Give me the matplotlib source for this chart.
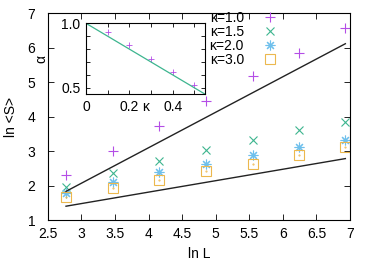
import matplotlib
matplotlib.use('Agg')
import matplotlib.pyplot as plt

plt.rcParams['font.family'] = ['Liberation Sans', 'DejaVu Sans']
plt.rcParams['font.size'] = 10

# ln L for L = 16 ... 1024
lnL = [2.77, 3.47, 4.16, 4.85, 5.55, 6.24, 6.93]

S_k10 = [2.30, 3.00, 3.73, 4.46, 5.17, 5.86, 6.59]
S_k15 = [1.97, 2.37, 2.73, 3.03, 3.32, 3.61, 3.86]
S_k20 = [1.79, 2.11, 2.39, 2.64, 2.88, 3.12, 3.34]
S_k30 = [1.67, 1.94, 2.18, 2.42, 2.64, 2.88, 3.12]

# guide lines
guide_x = [2.77, 6.93]
guide_hi = [1.84, 6.12]
guide_lo = [1.41, 2.79]

# inset: exponent alpha vs kappa
kappa = [0.1, 0.2, 0.3, 0.4, 0.5]
alpha = [0.93, 0.83, 0.72, 0.62, 0.52]
fit_k = [0.0, 0.55]
fit_a = [1.0, 0.45]

purple = '#b44de6'
green = '#3db58f'
blue = '#6fc0ec'
orange = '#ecb84e'

fig = plt.figure(figsize=(3.74, 2.62), dpi=100)
ax = fig.add_axes([0.128, 0.159, 0.808, 0.790])

ax.plot(lnL, S_k10, '+', color=purple, ms=7, mew=0.8, ls='none', label='κ=1.0')
ax.plot(lnL, S_k15, 'x', color=green, ms=6, mew=0.8, ls='none', label='κ=1.5')
ax.plot(lnL, S_k20, marker=(8, 2, 0), color=blue, ms=7, mew=0.8, ls='none', label='κ=2.0')
ax.plot(lnL, S_k30, 's', mfc='none', mec=orange, ms=7.5, mew=0.8, ls='none', label='κ=3.0')
ax.plot(lnL, S_k30, '.', color=orange, ms=1, ls='none')
ax.plot(guide_x, guide_hi, '-', color='#222222', lw=1.0)
ax.plot(guide_x, guide_lo, '-', color='#222222', lw=1.0)

ax.set_xlim(2.5, 7)
ax.set_ylim(1, 7)
ax.set_xticks([2.5, 3, 3.5, 4, 4.5, 5, 5.5, 6, 6.5, 7])
ax.set_xticklabels(['2.5', '3', '3.5', '4', '4.5', '5', '5.5', '6', '6.5', '7'])
ax.set_yticks([1, 2, 3, 4, 5, 6, 7])
ax.tick_params(direction='in', top=True, right=True, length=4, width=0.6)
ax.tick_params(axis='x', pad=5)
ax.tick_params(axis='y', pad=9)
ax.set_xlabel('ln L', labelpad=4)
ax.set_ylabel('ln <S>', labelpad=7)
for s in ax.spines.values():
    s.set_linewidth(0.8)

ax.legend(loc='upper left', bbox_to_anchor=(0.535, 1.01), frameon=False,
          markerfirst=False, handlelength=2.0, handletextpad=0.9,
          labelspacing=0.0, borderpad=0.0, borderaxespad=0.0)

ins = fig.add_axes([0.230, 0.640, 0.319, 0.271])
ins.plot(kappa, alpha, '+', color=purple, ms=4, mew=0.6, ls='none')
ins.plot(fit_k, fit_a, '-', color=green, lw=0.9)
ins.set_xlim(0, 0.55)
ins.set_ylim(0.45, 1.0)
ins.set_xticks([0, 0.1, 0.2, 0.3, 0.4, 0.5])
ins.set_xticklabels(['0', '', '0.2', '', '0.4', ''])
ins.set_yticks([0.5, 0.6, 0.7, 0.8, 0.9, 1.0])
ins.set_yticklabels(['0.5', '', '', '', '', '1.0'])
ins.tick_params(direction='in', top=True, right=True, length=3, width=0.6, pad=4)
ins.set_xlabel('κ')
ins.xaxis.set_label_coords(0.5, -0.08)
ins.set_ylabel('α', labelpad=9)
for s in ins.spines.values():
    s.set_linewidth(0.8)

fig.savefig('out.png', dpi=100)
